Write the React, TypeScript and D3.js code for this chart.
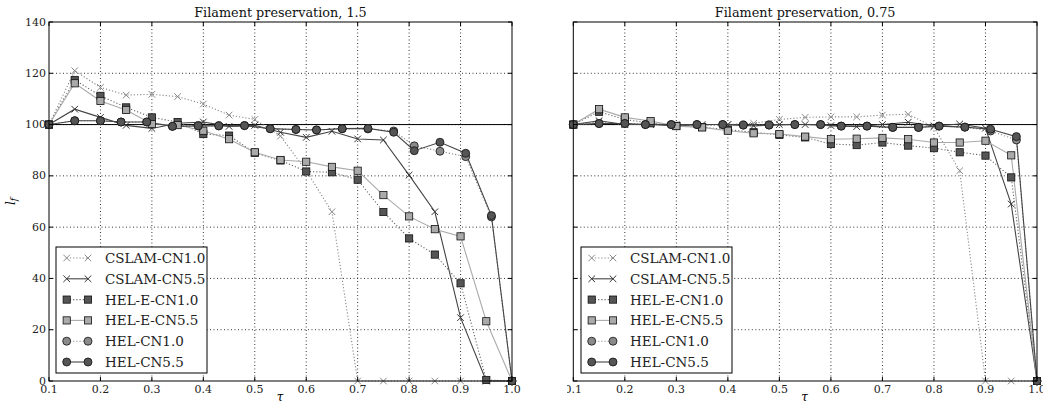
import React, { useRef, useEffect } from 'react';
import * as d3 from 'd3';

// tau grid used by CSLAM and HEL-E runs
const tauGrid = [0.1, 0.15, 0.2, 0.25, 0.3, 0.35, 0.4, 0.45, 0.5, 0.55, 0.6, 0.65, 0.7, 0.75, 0.8, 0.85, 0.9, 0.95, 1.0];
// tau values for HEL runs (slightly irregular)
const tauHel = [0.1, 0.15, 0.2, 0.24, 0.29, 0.34, 0.39, 0.43, 0.48, 0.53, 0.58, 0.62, 0.67, 0.72, 0.77, 0.81, 0.86, 0.91, 0.96, 1.0];

// Filament preservation, 1.5
const cslam10Left = [100, 121, 114.5, 111.5, 111.8, 110.9, 108, 103.7, 102, 95.5, 82, 66, 0, 0, 0, 0, 0, 0, 0];
const cslam55Left = [100, 106, 102.8, 99.7, 98.5, 100.5, 101, 99.3, 99.7, 97, 95, 97.4, 94.4, 94, 80.3, 66, 24.7, 0, 0];
const heleCN10Left = [100, 117.4, 111.2, 106.7, 102.8, 101, 96.3, 95.7, 89, 86, 81.7, 81.4, 78.5, 65.9, 55.6, 49.3, 38.1, 0.4, 0];
const heleCN55Left = [100, 116.1, 109.2, 105.7, 100.2, 99.8, 97.6, 94.3, 89.2, 86.2, 85.5, 83.5, 82, 72.5, 64.2, 59.2, 56.4, 23.3, 0];
const helCN10Left = [100, 101.5, 101.5, 101, 101, 99.3, 99.5, 99.5, 99.6, 98.4, 98.1, 97.9, 98.4, 98.3, 97.5, 91.7, 89.6, 87.5, 64, 0];
const helCN55Left = [100, 101.5, 101.5, 101, 101, 99.3, 99.5, 99.5, 99.6, 98.4, 98.1, 97.9, 98.4, 98.5, 97, 89.8, 93.1, 88.8, 64.5, 0];

// Filament preservation, 0.75
const cslam10Right = [100, 101, 100, 100.5, 100, 99.5, 100, 100.5, 102, 102.8, 103, 103, 103.7, 104, 99, 82, 0, 0, 0];
const cslam55Right = [100, 101.5, 100, 100, 99.5, 100, 100, 99.5, 100, 100, 99.6, 99.2, 100, 100.9, 99.5, 100.2, 98.6, 69, 0];
const heleCN10Right = [100, 105, 102, 100.5, 99.5, 99, 98, 97, 96, 95, 92.4, 92, 93, 91.8, 90.8, 89.2, 87.9, 79.4, 0];
const heleCN55Right = [100, 106, 102.8, 101.4, 99.4, 98.9, 97.6, 96.6, 96.3, 95.3, 94.3, 94.5, 94.8, 94.3, 93, 93, 93.7, 88, 0];
const helCN10Right = [100, 100.4, 100.4, 100, 100, 100, 100, 99.8, 99.8, 100, 100, 99.4, 99.4, 98.9, 98.9, 99.4, 99, 97.5, 94, 0];
const helCN55Right = [100, 100.4, 100.4, 100, 100, 100, 100, 99.8, 99.8, 100, 100, 99.4, 99.4, 98.9, 98.9, 99.4, 99, 98.2, 95.3, 0];

const xTicks = [0.1, 0.2, 0.3, 0.4, 0.5, 0.6, 0.7, 0.8, 0.9, 1.0];
const yTicks = [0, 20, 40, 60, 80, 100, 120, 140];
const seriesNames = ['CSLAM-CN1.0', 'CSLAM-CN5.5', 'HEL-E-CN1.0', 'HEL-E-CN5.5', 'HEL-CN1.0', 'HEL-CN5.5'];
const panelTitles = ['Filament preservation, 1.5', 'Filament preservation, 0.75'];

type Marker = 'x' | 'square' | 'circle';
interface Style { marker: Marker; fill: string; line: string; dash: string | null; }

const styles: Style[] = [
    { marker: 'x', fill: '#8a8a8a', line: '#8a8a8a', dash: '1.2,2' },
    { marker: 'x', fill: '#333', line: '#444', dash: null },
    { marker: 'square', fill: '#555', line: '#666', dash: '1.2,2' },
    { marker: 'square', fill: '#aaa', line: '#aaa', dash: null },
    { marker: 'circle', fill: '#8a8a8a', line: '#8a8a8a', dash: '1.2,2' },
    { marker: 'circle', fill: '#555', line: '#444', dash: null },
];

const FONT = 'DejaVu Serif, serif';

export default function App() {
    const svgRef = useRef<SVGSVGElement>(null);

    useEffect(() => {
        if (!svgRef.current) return;
        const svg = d3.select(svgRef.current);
        svg.selectAll('*').remove();

        const top = 22, bottom = 381;
        const panels = [
            { x0: 49, x1: 512, data: [cslam10Left, cslam55Left, heleCN10Left, heleCN55Left, helCN10Left, helCN55Left], yLabels: true, legendX: 56 },
            { x0: 573.3, x1: 1037, data: [cslam10Right, cslam55Right, heleCN10Right, heleCN55Right, helCN10Right, helCN55Right], yLabels: false, legendX: 581 },
        ];

        const defs = svg.append('defs');
        defs.append('clipPath').attr('id', 'rtick')
            .append('rect').attr('x', 567).attr('y', 0).attr('width', 600).attr('height', 405);

        const drawMarker = (g: any, st: Style, cx: number, cy: number) => {
            if (st.marker === 'x') {
                const s = 3.3;
                g.append('path')
                    .attr('d', `M${cx - s},${cy - s}L${cx + s},${cy + s}M${cx - s},${cy + s}L${cx + s},${cy - s}`)
                    .attr('stroke', st.fill).attr('stroke-width', 1).attr('fill', 'none');
            } else if (st.marker === 'square') {
                g.append('rect').attr('x', cx - 3.6).attr('y', cy - 3.6).attr('width', 7.2).attr('height', 7.2)
                    .attr('fill', st.fill).attr('stroke', '#111').attr('stroke-width', 0.8);
            } else {
                g.append('circle').attr('cx', cx).attr('cy', cy).attr('r', 4)
                    .attr('fill', st.fill).attr('stroke', '#111').attr('stroke-width', 0.8);
            }
        };

        panels.forEach((p, pi) => {
            const x = d3.scaleLinear().domain([0.1, 1.0]).range([p.x0, p.x1]);
            const y = d3.scaleLinear().domain([0, 140]).range([bottom, top]);
            const g = svg.append('g');

            // grid
            xTicks.slice(1, -1).forEach(t => {
                g.append('line').attr('x1', x(t)).attr('x2', x(t)).attr('y1', top).attr('y2', bottom)
                    .attr('stroke', '#000').attr('stroke-width', 0.8).attr('stroke-dasharray', '1,2.5');
            });
            yTicks.slice(1, -1).forEach(t => {
                g.append('line').attr('x1', p.x0).attr('x2', p.x1).attr('y1', y(t)).attr('y2', y(t))
                    .attr('stroke', '#000').attr('stroke-width', 0.8).attr('stroke-dasharray', '1,2.5');
            });

            // reference line at 100
            g.append('line').attr('x1', p.x0).attr('x2', p.x1).attr('y1', y(100)).attr('y2', y(100))
                .attr('stroke', '#000').attr('stroke-width', 1);

            const plot = g.append('g');
            p.data.forEach((vals, si) => {
                const st = styles[si];
                const taus = si >= 4 ? tauHel : tauGrid;
                const pts = vals.map((v, i) => [taus[i], v] as [number, number]);
                const line = d3.line<[number, number]>().x(d => x(d[0])).y(d => y(d[1]));
                const path = plot.append('path').datum(pts).attr('d', line)
                    .attr('fill', 'none').attr('stroke', st.line).attr('stroke-width', 1.1);
                if (st.dash) path.attr('stroke-dasharray', st.dash);
            });
            p.data.forEach((vals, si) => {
                const st = styles[si];
                const taus = si >= 4 ? tauHel : tauGrid;
                vals.forEach((v, i) => drawMarker(plot, st, x(taus[i]), y(v)));
            });

            // frame
            g.append('rect').attr('x', p.x0).attr('y', top).attr('width', p.x1 - p.x0).attr('height', bottom - top)
                .attr('fill', 'none').attr('stroke', '#000').attr('stroke-width', 1);

            // ticks (inward, all sides)
            xTicks.forEach(t => {
                g.append('line').attr('x1', x(t)).attr('x2', x(t)).attr('y1', bottom).attr('y2', bottom - 4).attr('stroke', '#000');
                g.append('line').attr('x1', x(t)).attr('x2', x(t)).attr('y1', top).attr('y2', top + 4).attr('stroke', '#000');
            });
            yTicks.forEach(t => {
                g.append('line').attr('x1', p.x0).attr('x2', p.x0 + 4).attr('y1', y(t)).attr('y2', y(t)).attr('stroke', '#000');
                g.append('line').attr('x1', p.x1).attr('x2', p.x1 - 4).attr('y1', y(t)).attr('y2', y(t)).attr('stroke', '#000');
            });

            const tl = g.append('g');
            if (pi === 1) tl.attr('clip-path', 'url(#rtick)');
            xTicks.forEach(t => {
                tl.append('text').attr('x', x(t)).attr('y', bottom + 12).attr('text-anchor', 'middle')
                    .attr('font-family', FONT).attr('font-size', 11).attr('fill', '#222').text(t.toFixed(1));
            });
            if (p.yLabels) {
                yTicks.forEach(t => {
                    g.append('text').attr('x', p.x0 - 3).attr('y', y(t) + 3.5).attr('text-anchor', 'end')
                        .attr('font-family', FONT).attr('font-size', 11).attr('fill', '#222').text(String(t));
                });
                g.append('text').attr('transform', `translate(15,${(top + bottom) / 2}) rotate(-90)`)
                    .attr('text-anchor', 'middle').attr('font-family', FONT).attr('font-size', 12).attr('font-style', 'italic')
                    .call((t: any) => {
                        t.append('tspan').text('l');
                        t.append('tspan').attr('font-size', 9).attr('dy', 2).text('f');
                    });
            }

            // x label
            g.append('text').attr('x', (p.x0 + p.x1) / 2 - 0.5).attr('y', bottom + 20).attr('text-anchor', 'middle')
                .attr('font-family', FONT).attr('font-size', 12).attr('font-style', 'italic').text('τ');

            // title
            g.append('text').attr('x', (p.x0 + p.x1) / 2).attr('y', 17).attr('text-anchor', 'middle')
                .attr('font-family', FONT).attr('font-size', 12.8).attr('fill', '#111').text(panelTitles[pi]);

            // legend
            const lg = g.append('g');
            const lx = p.legendX, ly = 247, lw = 151, lh = 126;
            lg.append('rect').attr('x', lx).attr('y', ly).attr('width', lw).attr('height', lh)
                .attr('fill', '#fff').attr('stroke', '#000').attr('stroke-width', 1);
            seriesNames.forEach((name, si) => {
                const st = styles[si];
                const yy = ly + 11 + si * 20.8;
                const m0 = lx + 10.7, m1 = lx + 32;
                const l = lg.append('line').attr('x1', m0).attr('x2', m1).attr('y1', yy).attr('y2', yy)
                    .attr('stroke', st.line).attr('stroke-width', 1.1);
                if (st.dash) l.attr('stroke-dasharray', st.dash);
                drawMarker(lg, st, m0, yy);
                drawMarker(lg, st, m1, yy);
                lg.append('text').attr('x', lx + 49).attr('y', yy + 5)
                    .attr('font-family', FONT).attr('font-size', 13.5).attr('fill', '#222').text(name);
            });
        });
    }, []);

    return (
        <svg ref={svgRef} width={1043} height={405}
            style={{ position: 'absolute', left: 0, top: 0, background: '#fff' }} />
    );
}
